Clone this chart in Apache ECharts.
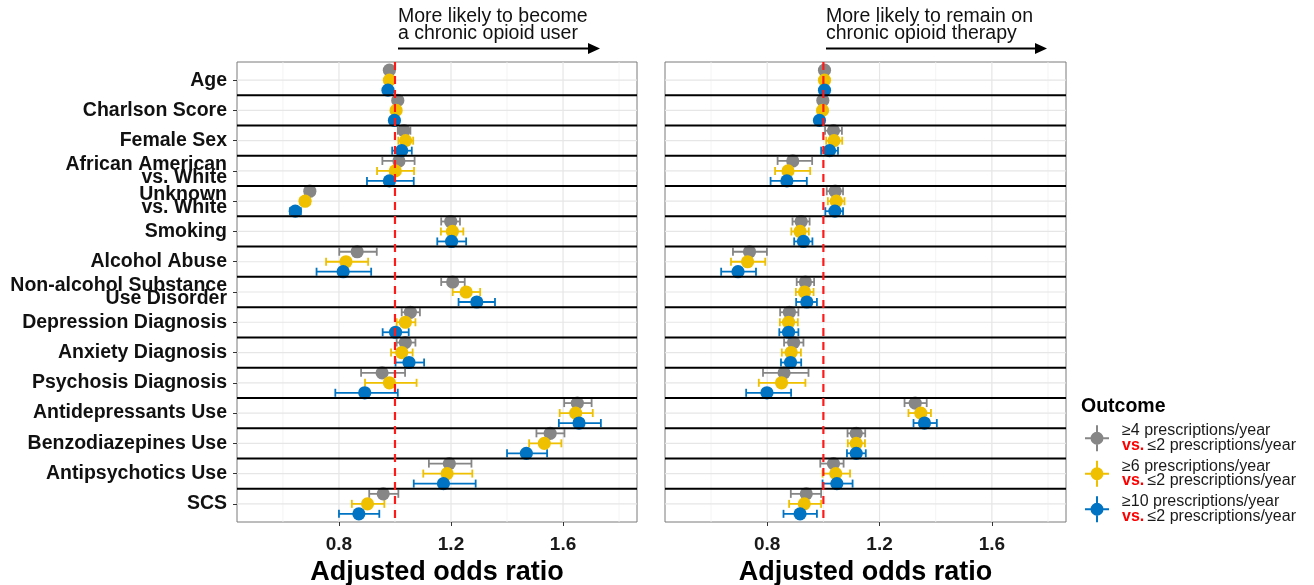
<!DOCTYPE html>
<html>
<head>
<meta charset="utf-8">
<script src="https://cdn.jsdelivr.net/npm/echarts/dist/echarts.min.js"></script>
<style>
html,body{margin:0;padding:0;background:#fff;}
#chart{width:1314px;height:585px;}
</style>
</head>
<body>
<div id="chart"></div>
<script>
// ---------------- DATA ----------------
const categories = ['Age','Charlson Score','Female Sex','African American\nvs. White','Unknown\nvs. White','Smoking','Alcohol Abuse','Non-alcohol Substance\nUse Disorder','Depression Diagnosis','Anxiety Diagnosis','Psychosis Diagnosis','Antidepressants Use','Benzodiazepines Use','Antipsychotics Use','SCS'];
const outcomes = ['≥4 prescriptions/year', '≥6 prescriptions/year', '≥10 prescriptions/year'];
const comparator = '≤2 prescriptions/year';
const panelNotes = ['More likely to become\na chronic opioid user', 'More likely to remain on\nchronic opioid therapy'];
const xTicks = [0.8, 1.2, 1.6];
const xMinor = [0.6, 1.0, 1.4, 1.8];
const refValue = 1;

// [estimate, lower, upper] — panel 1: become chronic opioid user
const become4 = [[0.98,0.975,0.985],[1.01,1.0,1.02],[1.032,1.01,1.055],[1.014,0.955,1.07],[0.696,0.68,0.712],[1.199,1.165,1.232],[0.865,0.801,0.935],[1.206,1.165,1.249],[1.055,1.024,1.089],[1.037,1.006,1.073],[0.954,0.879,1.036],[1.651,1.604,1.702],[1.554,1.505,1.605],[1.194,1.121,1.273],[0.958,0.908,1.012]];
const become6 = [[0.98,0.974,0.986],[1.004,0.992,1.016],[1.038,1.012,1.065],[1.001,0.936,1.068],[0.679,0.662,0.697],[1.205,1.164,1.244],[0.825,0.754,0.904],[1.254,1.206,1.304],[1.037,1.006,1.073],[1.024,0.986,1.063],[0.98,0.893,1.077],[1.645,1.588,1.706],[1.533,1.479,1.594],[1.186,1.101,1.276],[0.902,0.846,0.962]];
const become10 = [[0.975,0.967,0.983],[0.998,0.984,1.012],[1.024,0.99,1.06],[0.98,0.90,1.067],[0.644,0.625,0.664],[1.202,1.151,1.254],[0.815,0.72,0.915],[1.292,1.227,1.357],[1.002,0.956,1.049],[1.05,1.002,1.104],[0.892,0.787,1.01],[1.657,1.585,1.735],[1.469,1.40,1.543],[1.173,1.067,1.288],[0.871,0.80,0.944]];
// panel 2: remain on chronic opioid therapy
const remain4 = [[1.004,0.998,1.01],[0.998,0.988,1.008],[1.036,1.006,1.066],[0.891,0.837,0.96],[1.042,1.012,1.07],[0.921,0.89,0.951],[0.737,0.678,0.799],[0.936,0.905,0.967],[0.879,0.846,0.911],[0.894,0.86,0.929],[0.86,0.785,0.947],[1.327,1.289,1.368],[1.117,1.086,1.149],[1.036,0.989,1.072],[0.939,0.884,0.992]];
const remain6 = [[1.004,0.997,1.011],[0.997,0.985,1.009],[1.038,1.01,1.067],[0.874,0.828,0.953],[1.046,1.016,1.075],[0.917,0.886,0.948],[0.73,0.671,0.793],[0.933,0.902,0.965],[0.876,0.845,0.909],[0.885,0.852,0.92],[0.851,0.77,0.936],[1.347,1.303,1.383],[1.117,1.087,1.148],[1.044,0.997,1.095],[0.932,0.878,0.992]];
const remain10 = [[1.004,0.996,1.012],[0.986,0.972,1.0],[1.022,0.992,1.052],[0.87,0.812,0.941],[1.041,1.007,1.07],[0.929,0.896,0.961],[0.696,0.636,0.76],[0.941,0.903,0.977],[0.876,0.843,0.911],[0.883,0.849,0.921],[0.799,0.725,0.885],[1.36,1.321,1.404],[1.117,1.084,1.151],[1.048,0.997,1.104],[0.917,0.858,0.977]];

// ---------------- STYLE / LAYOUT ----------------
const FONT = "'Liberation Sans', Arial, Helvetica, sans-serif";
const colors = ['#868686', '#EFC000', '#0073C2'];
const dodge = [-0.33, 0, 0.33];
const X_MIN = 0.436, X_MAX = 1.864;
const panels = [[become4, become6, become10], [remain4, remain6, remain10]];
const gridsPos = [{left: 237, width: 400}, {left: 665, width: 401}];

const chart = echarts.init(document.getElementById('chart'), null, {renderer: 'canvas'});

function bgSeries(g) {
  const data = [];
  xMinor.forEach(v => data.push([1, v]));
  xTicks.forEach(v => data.push([0, v]));
  categories.forEach((c, i) => data.push([2, i]));
  return {
    type: 'custom', xAxisIndex: g, yAxisIndex: g, z: 1, silent: true,
    data: data,
    renderItem: function (params, api) {
      const cs = params.coordSys;
      const kind = api.value(0), v = api.value(1);
      if (kind === 0 || kind === 1) {
        const x = api.coord([v, 0])[0];
        return {type: 'line', shape: {x1: x, y1: cs.y, x2: x, y2: cs.y + cs.height},
          style: {stroke: kind === 0 ? '#e6e6e6' : '#f0f0f0', lineWidth: kind === 0 ? 1.2 : 0.8}};
      }
      const y = api.coord([1, v])[1];
      return {type: 'line', shape: {x1: cs.x, y1: y, x2: cs.x + cs.width, y2: y},
        style: {stroke: '#e6e6e6', lineWidth: 1.2}};
    }
  };
}

function sepSeries(g) {
  const data = categories.slice(1).map((c, i) => [1, i + 0.5]);
  return {
    type: 'custom', xAxisIndex: g, yAxisIndex: g, z: 5, silent: true,
    data: data,
    renderItem: function (params, api) {
      const cs = params.coordSys;
      const y = api.coord([1, api.value(1)])[1];
      return {type: 'line', shape: {x1: cs.x, y1: y, x2: cs.x + cs.width, y2: y},
        style: {stroke: '#000', lineWidth: 2}};
    }
  };
}

function refSeries(g) {
  return {
    type: 'custom', xAxisIndex: g, yAxisIndex: g, z: 6, silent: true,
    data: [[refValue, 0]],
    renderItem: function (params, api) {
      const cs = params.coordSys;
      const x = api.coord([api.value(0), 0])[0];
      return {type: 'line', shape: {x1: x, y1: cs.y, x2: x, y2: cs.y + cs.height},
        style: {stroke: '#ff1a1a', lineWidth: 2.2, lineDash: [8, 6]}};
    }
  };
}

function pointSeries(g, arr, k) {
  return {
    type: 'custom', name: outcomes[k], xAxisIndex: g, yAxisIndex: g, z: 3,
    itemStyle: {color: colors[k]},
    encode: {x: [0, 2, 3], y: 1},
    data: arr.map((d, i) => [d[0], i + dodge[k], d[1], d[2]]),
    renderItem: function (params, api) {
      const y = api.value(1);
      const p = api.coord([api.value(0), y]);
      const pl = api.coord([api.value(2), y]);
      const ph = api.coord([api.value(3), y]);
      const color = api.visual('color');
      const cap = 4;
      const st = {stroke: color, lineWidth: 1.8};
      return {type: 'group', children: [
        {type: 'line', z2: k, shape: {x1: pl[0], y1: pl[1], x2: ph[0], y2: ph[1]}, style: st},
        {type: 'line', z2: k, shape: {x1: pl[0], y1: pl[1] - cap, x2: pl[0], y2: pl[1] + cap}, style: st},
        {type: 'line', z2: k, shape: {x1: ph[0], y1: ph[1] - cap, x2: ph[0], y2: ph[1] + cap}, style: st},
        {type: 'circle', z2: 10 + k, shape: {cx: p[0], cy: p[1], r: 6.6}, style: {fill: color}}
      ]};
    }
  };
}

const grids = gridsPos.map(p => ({left: p.left, width: p.width, top: 62, height: 460, show: true,
  borderColor: '#7a7a7a', borderWidth: 1, backgroundColor: '#fff', containLabel: false, outerBoundsMode: 'none'}));

const xAxes = gridsPos.map((p, g) => ({
  type: 'value', gridIndex: g, min: X_MIN, max: X_MAX, position: 'bottom',
  name: 'Adjusted odds ratio', nameLocation: 'middle', nameGap: 31,
  nameTextStyle: {fontFamily: FONT, fontSize: 27, fontWeight: 'bold', color: '#000'},
  axisLine: {show: false, onZero: false},
  splitLine: {show: false},
  axisTick: {show: true, customValues: xTicks, length: 4, lineStyle: {color: '#333', width: 1}},
  axisLabel: {show: true, customValues: xTicks, margin: 13, fontFamily: FONT, fontSize: 19, fontWeight: 'bold', color: '#1a1a1a',
    formatter: v => v.toFixed(1)}
}));

const yAxes = gridsPos.map((p, g) => ({
  type: 'value', gridIndex: g, min: -0.6, max: categories.length - 0.4, inverse: true, position: 'left',
  axisLine: {show: false, onZero: false},
  splitLine: {show: false},
  axisTick: {show: g === 0, customValues: categories.map((c, i) => i), length: 4, lineStyle: {color: '#333', width: 1}},
  axisLabel: {show: g === 0, customValues: categories.map((c, i) => i), margin: 10,
    fontFamily: FONT, fontSize: 19.5, fontWeight: 'bold', color: '#111', lineHeight: 13, padding: [8, 0, 0, 0],
    formatter: v => categories[Math.round(v)]}
}));

const series = [];
panels.forEach((sets, g) => {
  series.push(bgSeries(g));
  sets.forEach((arr, k) => series.push(pointSeries(g, arr, k)));
  series.push(sepSeries(g));
  series.push(refSeries(g));
});

const crossIcon = 'path://M0,12h24v2h-24Z M11,0h2v26h-2Z M5.5,13a6.5,6.5 0 1,1 13,0a6.5,6.5 0 1,1 -13,0Z';

function arrow(x1, x2, y) {
  return [
    {type: 'line', shape: {x1: x1, y1: y, x2: x2 - 8, y2: y}, style: {stroke: '#000', lineWidth: 1.8}},
    {type: 'polygon', shape: {points: [[x2, y], [x2 - 12, y - 5.5], [x2 - 12, y + 5.5]]}, style: {fill: '#000'}}
  ];
}

const graphics = [
  {type: 'text', x: 398, y: 8, style: {text: panelNotes[0], font: '19.5px ' + FONT, fill: '#111', lineHeight: 17, verticalAlign: 'top'}},
  {type: 'text', x: 826, y: 8, style: {text: panelNotes[1], font: '19.5px ' + FONT, fill: '#111', lineHeight: 17, verticalAlign: 'top'}},
  ...arrow(398, 600, 48.5),
  ...arrow(826, 1047, 48.5),
  {type: 'text', x: 1081, y: 397, style: {text: 'Outcome', font: 'bold 19.5px ' + FONT, fill: '#000', verticalAlign: 'top'}}
];

chart.setOption({
  animation: false,
  backgroundColor: '#fff',
  grid: grids,
  xAxis: xAxes,
  yAxis: yAxes,
  series: series,
  graphic: graphics,
  legend: {
    left: 1080, top: 418, orient: 'vertical', itemWidth: 40, itemHeight: 26, itemGap: 5,
    selectedMode: false, padding: 5,
    data: outcomes.map(n => ({name: n, icon: crossIcon})),
    formatter: name => '{a|' + name + '}\n{r|vs.} {a|' + comparator + '}',
    textStyle: {
      rich: {
        a: {fontFamily: FONT, fontSize: 16, color: '#1a1a1a', lineHeight: 14.5},
        r: {fontFamily: FONT, fontSize: 16, color: '#ff0000', fontWeight: 'bold', lineHeight: 14.5}
      }
    }
  }
});
</script>
</body>
</html>
